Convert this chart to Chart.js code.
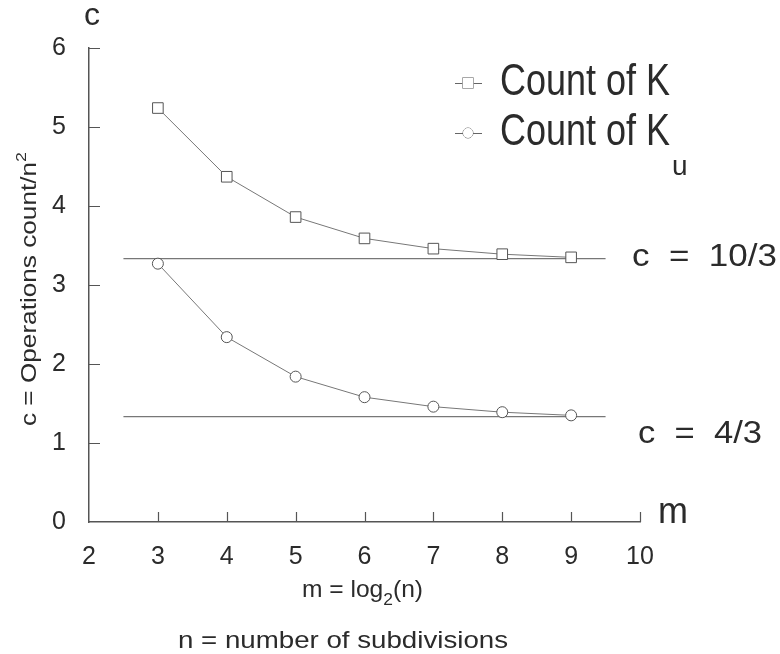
<!DOCTYPE html>
<html>
<head>
<meta charset="utf-8">
<script src="https://cdn.jsdelivr.net/npm/chart.js@4.4.0/dist/chart.umd.min.js"></script>
<style>
  html, body { margin: 0; padding: 0; background: #fff; }
</style>
</head>
<body>
<canvas id="chart" width="780" height="654"></canvas>
<script>
// values
const mValues = [3, 4, 5, 6, 7, 8, 9];
const countK = [5.24, 4.37, 3.86, 3.59, 3.46, 3.39, 3.35];
const countKu = [3.27, 2.34, 1.84, 1.58, 1.46, 1.39, 1.35];
const limitK = 10 / 3;
const limitKu = 4 / 3;
const limitFrom = 2.5;
const limitTo = 9.5;
const xTicks = [2, 3, 4, 5, 6, 7, 8, 9, 10];
const yTicks = [0, 1, 2, 3, 4, 5, 6];

const FONT = '"Liberation Sans", Arial, Helvetica, sans-serif';
const INK = "#2b2b2b";

const pts = (xs, ys) => xs.map((x, i) => ({ x: x, y: ys[i] }));

// draw a run of text pieces (for sub/superscripts), optionally squeezed to a width
function drawParts(ctx, parts, x, y, size, width) {
	ctx.save();
	let total = 0;
	for (const p of parts) {
		ctx.font = Math.round(size * (p.s || 1)) + "px " + FONT;
		p.w = ctx.measureText(p.t).width;
		total += p.w;
	}
	const sx = width ? width / total : 1;
	ctx.translate(x, y);
	ctx.scale(sx, 1);
	let cx = 0;
	for (const p of parts) {
		ctx.font = Math.round(size * (p.s || 1)) + "px " + FONT;
		ctx.fillText(p.t, cx, (p.dy || 0) * size);
		cx += p.w;
	}
	ctx.restore();
}

const decorations = {
	id: "decorations",
	afterDraw(chart) {
		const ctx = chart.ctx;
		const xs = chart.scales.x;
		const ys = chart.scales.y;
		const area = chart.chartArea;

		// inward tick marks
		ctx.save();
		ctx.strokeStyle = "#555";
		ctx.lineWidth = 1.2;
		ctx.beginPath();
		xTicks.forEach((t) => {
			if (t === 2) return;
			const px = Math.round(xs.getPixelForValue(t)) + 0.5;
			ctx.moveTo(px, area.bottom);
			ctx.lineTo(px, area.bottom - 10);
		});
		yTicks.forEach((t) => {
			if (t === 0) return;
			const py = Math.round(ys.getPixelForValue(t)) + 0.5;
			ctx.moveTo(area.left, py);
			ctx.lineTo(area.left + 11, py);
		});
		ctx.stroke();
		ctx.restore();

		ctx.save();
		ctx.fillStyle = INK;
		ctx.textBaseline = "alphabetic";
		ctx.textAlign = "left";

		// axis letters
		drawParts(ctx, [{ t: "c" }], 84, 25, 32);
		drawParts(ctx, [{ t: "m" }], 658, 523, 36);

		// limit labels
		drawParts(ctx, [{ t: "c  =  10/3" }], 632, 266, 31, 145);
		drawParts(ctx, [{ t: "c  =  4/3" }], 638, 443, 31, 124);

		// legend
		ctx.strokeStyle = "#666";
		ctx.lineWidth = 1;
		[
			{ y: 83, style: "rect", r: 7.5 },
			{ y: 133, style: "circle", r: 5 },
		].forEach((row) => {
			ctx.beginPath();
			ctx.moveTo(455, row.y + 0.5);
			ctx.lineTo(482, row.y + 0.5);
			ctx.stroke();
			ctx.fillStyle = "#fff";
			Chart.helpers.drawPoint(ctx, { pointStyle: row.style, radius: row.r, borderWidth: 1 }, 468, row.y);
			ctx.fill();
		});
		ctx.fillStyle = INK;
		drawParts(ctx, [{ t: "Count of K" }], 500, 95, 44, 170);
		drawParts(ctx, [{ t: "Count of K" }], 500, 145, 44, 170);
		drawParts(ctx, [{ t: "u" }], 672, 175, 28);

		// axis titles
		drawParts(ctx, [{ t: "m = log" }, { t: "2", s: 0.7, dy: 0.35 }, { t: "(n)" }], 302, 597, 24, 121);
		drawParts(ctx, [{ t: "n = number of subdivisions" }], 178, 648, 24, 330);

		ctx.translate(36, 426);
		ctx.rotate(-Math.PI / 2);
		drawParts(ctx, [{ t: "c = Operations count/n" }, { t: "2", s: 0.7, dy: -0.45 }], 0, 0, 22, 274);
		ctx.restore();
	},
};

new Chart(document.getElementById("chart"), {
	type: "scatter",
	data: {
		datasets: [
			{
				label: "Count of K",
				data: pts(mValues, countK),
				showLine: true,
				borderColor: "#777",
				borderWidth: 1,
				pointStyle: "rect",
				pointRadius: 7.5,
				pointBorderColor: "#555",
				pointBackgroundColor: "#fff",
				pointBorderWidth: 1,
			},
			{
				label: "Count of Ku",
				data: pts(mValues, countKu),
				showLine: true,
				borderColor: "#777",
				borderWidth: 1,
				pointStyle: "circle",
				pointRadius: 5.5,
				pointBorderColor: "#555",
				pointBackgroundColor: "#fff",
				pointBorderWidth: 1,
			},
			{
				label: "c = 10/3",
				data: pts([limitFrom, limitTo], [limitK, limitK]),
				showLine: true,
				borderColor: "#777",
				borderWidth: 1.3,
				pointRadius: 0,
			},
			{
				label: "c = 4/3",
				data: pts([limitFrom, limitTo], [limitKu, limitKu]),
				showLine: true,
				borderColor: "#777",
				borderWidth: 1.3,
				pointRadius: 0,
			},
		],
	},
	options: {
		responsive: false,
		animation: false,
		events: [],
		layout: { padding: { left: 0, top: 48, right: 140, bottom: 0 } },
		plugins: { legend: { display: false }, tooltip: { enabled: false } },
		scales: {
			x: {
				type: "linear",
				min: 2,
				max: 10,
				afterBuildTicks: (s) => { s.ticks = xTicks.map((v) => ({ value: v })); },
				afterFit: (s) => { s.height = 132; },
				grid: { display: false },
				border: { display: true, color: "#555", width: 1.5 },
				ticks: { color: INK, font: { family: FONT, size: 25 }, padding: 12 },
			},
			y: {
				type: "linear",
				min: 0,
				max: 6,
				afterBuildTicks: (s) => { s.ticks = yTicks.map((v) => ({ value: v })); },
				afterFit: (s) => { s.width = 89; },
				grid: { display: false },
				border: { display: true, color: "#555", width: 1.5 },
				ticks: { color: INK, font: { family: FONT, size: 25 }, padding: 15 },
			},
		},
	},
	plugins: [decorations],
});
</script>
</body>
</html>
